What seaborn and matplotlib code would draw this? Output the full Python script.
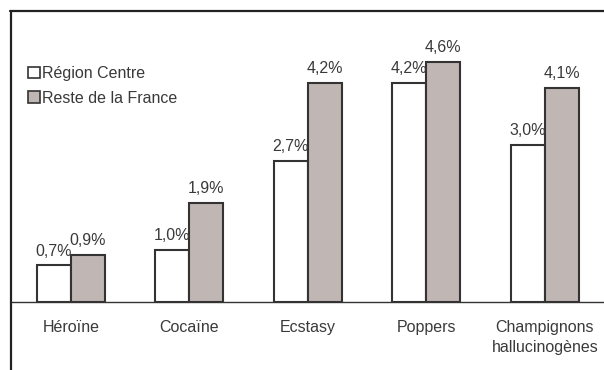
import matplotlib
matplotlib.use("Agg")
import matplotlib.pyplot as plt
from matplotlib.lines import Line2D
import seaborn as sns
import pandas as pd

categories = ["Héroïne", "Cocaïne", "Ecstasy", "Poppers", "Champignons\nhallucinogènes"]
series_names = ["Région Centre", "Reste de la France"]
region_centre = [0.7, 1.0, 2.7, 4.2, 3.0]
reste_france = [0.9, 1.9, 4.2, 4.6, 4.1]

df = pd.DataFrame({
    "produit": categories * 2,
    "serie": [series_names[0]] * len(categories) + [series_names[1]] * len(categories),
    "valeur": region_centre + reste_france,
})

sns.set_theme(style="white")
plt.rcParams["font.family"] = ["Liberation Sans", "DejaVu Sans"]
text_color = "#3a3a3a"
edge_color = "#333333"

W, H = 604, 370
fig = plt.figure(figsize=(W / 100, H / 100), dpi=100)
ax = fig.add_axes([11.75 / W, (H - 302) / H, 1 - 11.75 / W, (302 - 11) / H])

sns.barplot(data=df, x="produit", y="valeur", hue="serie", order=categories,
            hue_order=series_names, palette=["white", "#c0b6b4"],
            width=0.574, edgecolor=edge_color, linewidth=1.5, saturation=1,
            ax=ax)

for cont in ax.containers:
    labels = [f"{v:.1f}".replace(".", ",") + "%" for v in cont.datavalues]
    ax.bar_label(cont, labels=labels, padding=5, fontsize=11.5, color=text_color)

ax.set_ylim(0, 5.575)
ax.set_xlim(-0.5, 4.5)
ax.set_yticks([])
ax.set_xlabel("")
ax.set_ylabel("")
ax.set_xticks(range(len(categories)))
ax.set_xticklabels(categories, linespacing=1.4, fontsize=11.5, color=text_color)
ax.tick_params(axis="x", length=0, pad=13)
for s in ["top", "right", "left"]:
    ax.spines[s].set_visible(False)
ax.spines["bottom"].set_color(edge_color)
ax.spines["bottom"].set_linewidth(1.0)

leg = ax.legend(loc="upper left", bbox_to_anchor=(28 / W, 1 - 66 / H),
                bbox_transform=fig.transFigure, frameon=False, fontsize=11.5,
                handlelength=0.75, handleheight=0.7, handletextpad=0.15,
                labelspacing=0.6, borderpad=0, borderaxespad=0)
for t in leg.get_texts():
    t.set_color(text_color)
for h in leg.legend_handles:
    h.set_edgecolor(edge_color)
    h.set_linewidth(1.2)

# outer frame (top and left edges)
fig.add_artist(Line2D([10 / W, 1], [1 - 11 / H] * 2, transform=fig.transFigure,
                      color="#222222", linewidth=1.6))
fig.add_artist(Line2D([11 / W] * 2, [0, 1 - 11 / H], transform=fig.transFigure,
                      color="#222222", linewidth=1.6))

fig.savefig("out.png", dpi=100, facecolor="white")
